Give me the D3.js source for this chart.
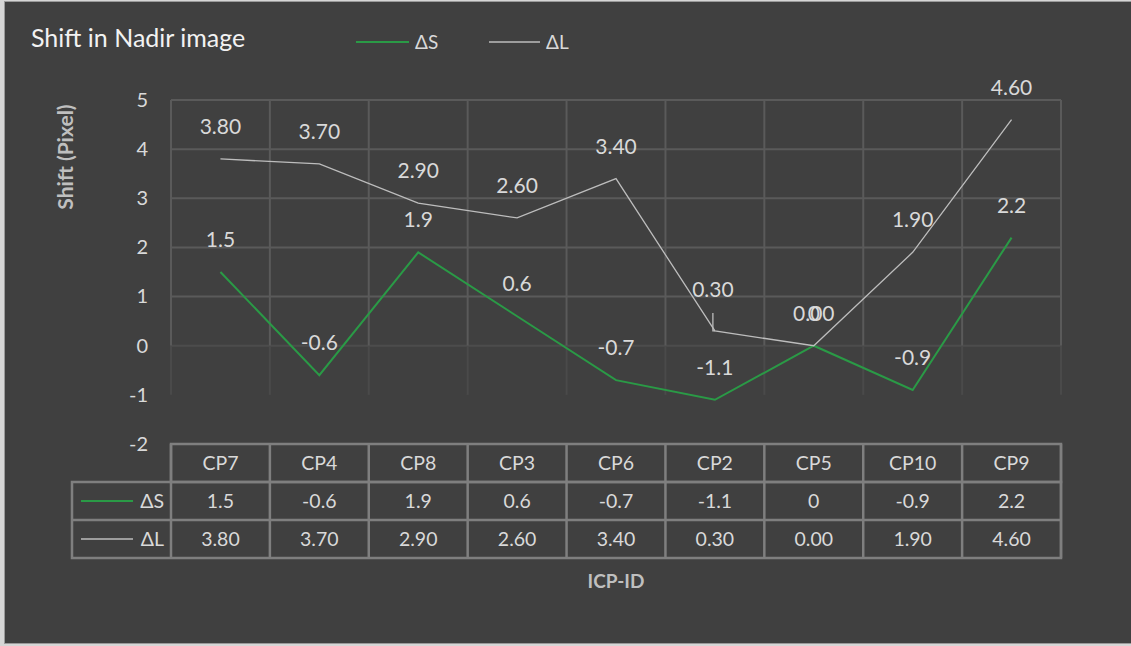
<!DOCTYPE html>
<html>
<head>
<meta charset="utf-8">
<script src="https://cdn.jsdelivr.net/npm/d3@7"></script>
<style>
  html, body { margin: 0; padding: 0; background: #d6d6d6; }
  svg { display: block; }
  text { font-family: Lato, "Open Sans", sans-serif; }
</style>
</head>
<body>
<svg id="chart" width="1131" height="646"></svg>
<script>
// ICP shift values in the nadir image
const categories = ["CP7", "CP4", "CP8", "CP3", "CP6", "CP2", "CP5", "CP10", "CP9"];
const deltaS = [1.5, -0.6, 1.9, 0.6, -0.7, -1.1, 0, -0.9, 2.2];
const deltaL = [3.80, 3.70, 2.90, 2.60, 3.40, 0.30, 0.00, 1.90, 4.60];
const yTicks = [5, 4, 3, 2, 1, 0, -1, -2];
const seriesNames = ["ΔS", "ΔL"];

const fmtS = v => String(v);
const fmtL = v => v.toFixed(2);

const series = [
  { name: seriesNames[0], values: deltaS, fmt: fmtS, color: "#2a9a46", width: 2 },
  { name: seriesNames[1], values: deltaL, fmt: fmtL, color: "#bdbdbd", width: 1.3 }
];

const svg = d3.select("#chart");
const W = 1131, H = 646;

// chart background panel
svg.append("rect")
  .attr("x", 4.5).attr("y", 1.5)
  .attr("width", W - 4).attr("height", 642)
  .attr("fill", "#404040")
  .attr("stroke", "#9a9a9a").attr("stroke-width", 1);

const plot = { left: 171, right: 1061, top: 100, bottom: 444 };

const x = d3.scaleBand().domain(categories).range([plot.left, plot.right]);
const y = d3.scaleLinear().domain([-2, 5]).range([plot.bottom, plot.top]);
const cx = c => x(c) + x.bandwidth() / 2;

// gridlines
const grid = svg.append("g");
yTicks.filter(t => t >= 1).forEach(t => {
  grid.append("line")
    .attr("x1", plot.left).attr("x2", plot.right)
    .attr("y1", y(t)).attr("y2", y(t))
    .attr("stroke", "#5a5a5a").attr("stroke-width", 2);
});
grid.append("line")
  .attr("x1", plot.left).attr("x2", plot.right)
  .attr("y1", y(0)).attr("y2", y(0))
  .attr("stroke", "#4c4c4c").attr("stroke-width", 2);
const bounds = categories.map(c => x(c)).concat([plot.right]);
bounds.forEach(bx => {
  grid.append("line")
    .attr("x1", bx).attr("x2", bx)
    .attr("y1", y(5)).attr("y2", y(0))
    .attr("stroke", "#5a5a5a").attr("stroke-width", 2);
  grid.append("line")
    .attr("x1", bx).attr("x2", bx)
    .attr("y1", y(0)).attr("y2", y(-1))
    .attr("stroke", "#4a4a4a").attr("stroke-width", 2);
});

// y axis (plain hyphen for negatives)
const yAxis = svg.append("g")
  .attr("transform", `translate(${plot.left},0)`)
  .call(d3.axisLeft(y).tickValues(yTicks).tickSize(0).tickPadding(23).tickFormat(d => String(d)));
yAxis.select(".domain").remove();
yAxis.selectAll("text")
  .attr("fill", "#d9d9d9")
  .style("font-family", "Lato, sans-serif")
  .style("font-size", "20px");

// y axis title
svg.append("text")
  .attr("transform", "translate(73,157) rotate(-90)")
  .attr("text-anchor", "middle")
  .attr("fill", "#bfbfbf")
  .style("font-weight", "bold")
  .style("font-size", "21px")
  .text("Shift (Pixel)");

// lines
const line = d3.line().x((d, i) => cx(categories[i])).y(d => y(d));
series.forEach(s => {
  svg.append("path")
    .datum(s.values)
    .attr("d", line)
    .attr("fill", "none")
    .attr("stroke", s.color)
    .attr("stroke-width", s.width)
    .attr("stroke-linejoin", "miter");
});

// data labels above each point
const labels = svg.append("g").attr("fill", "#d9d9d9").style("font-size", "21px");
series.forEach(s => {
  s.values.forEach((v, i) => {
    const px = cx(categories[i]);
    const py = y(v);
    // the CP2 ΔL label sits higher, with a leader back to its point
    const lifted = s.name === "ΔL" && categories[i] === "CP2";
    const lx = lifted ? px - 2 : px;
    const ly = lifted ? py - 34 : py - 25;
    labels.append("text")
      .attr("x", lx).attr("y", ly)
      .attr("text-anchor", "middle")
      .text(s.fmt(v));
    if (lifted) {
      svg.append("path")
        .attr("d", `M${lx},${ly + 16}L${lx},${py}L${px},${py}`)
        .attr("fill", "none")
        .attr("stroke", "#bdbdbd").attr("stroke-width", 1.3);
    }
  });
});

// data table
const rowTop = [444, 482, 520];
const rowH = 38;
const tableLeft = 72;
const tbl = svg.append("g");
const borderColor = "#7f7f7f";

// header cells
tbl.append("rect")
  .attr("x", plot.left).attr("y", rowTop[0])
  .attr("width", plot.right - plot.left).attr("height", rowH)
  .attr("fill", "none").attr("stroke", borderColor).attr("stroke-width", 2.5);
tbl.append("rect")
  .attr("x", tableLeft).attr("y", rowTop[1])
  .attr("width", plot.right - tableLeft).attr("height", rowH * 2)
  .attr("fill", "none").attr("stroke", borderColor).attr("stroke-width", 2.5);
tbl.append("line")
  .attr("x1", tableLeft).attr("x2", plot.right)
  .attr("y1", rowTop[2]).attr("y2", rowTop[2])
  .attr("stroke", borderColor).attr("stroke-width", 2.5);
bounds.forEach(bx => {
  tbl.append("line")
    .attr("x1", bx).attr("x2", bx)
    .attr("y1", rowTop[0]).attr("y2", rowTop[2] + rowH)
    .attr("stroke", borderColor).attr("stroke-width", 2.5);
});

const cellText = tbl.append("g").attr("fill", "#d9d9d9").style("font-size", "19.5px");
categories.forEach(c => {
  cellText.append("text")
    .attr("x", cx(c)).attr("y", rowTop[0] + rowH / 2)
    .attr("dy", "0.36em").attr("text-anchor", "middle")
    .text(c);
});
series.forEach((s, si) => {
  const ry = rowTop[si + 1] + rowH / 2;
  s.values.forEach((v, i) => {
    cellText.append("text")
      .attr("x", cx(categories[i])).attr("y", ry)
      .attr("dy", "0.36em").attr("text-anchor", "middle")
      .text(s.fmt(v));
  });
  // legend key inside the row header
  tbl.append("line")
    .attr("x1", 81).attr("x2", 133)
    .attr("y1", ry).attr("y2", ry)
    .attr("stroke", s.color).attr("stroke-width", s.width);
  cellText.append("text")
    .attr("x", 164).attr("y", ry)
    .attr("dy", "0.36em").attr("text-anchor", "end")
    .text(s.name);
});

// x axis title
svg.append("text")
  .attr("x", 616).attr("y", 588)
  .attr("text-anchor", "middle")
  .attr("fill", "#bfbfbf")
  .style("font-weight", "bold")
  .style("font-size", "19px")
  .text("ICP-ID");

// chart title
svg.append("text")
  .attr("x", 31).attr("y", 47)
  .attr("fill", "#f2f2f2")
  .style("font-size", "25px")
  .text("Shift in Nadir image");

// top legend
const legend = svg.append("g");
const legendPos = [{ x1: 356, x2: 409, tx: 415 }, { x1: 489, x2: 540, tx: 546 }];
series.forEach((s, i) => {
  const p = legendPos[i];
  legend.append("line")
    .attr("x1", p.x1).attr("x2", p.x2)
    .attr("y1", 42).attr("y2", 42)
    .attr("stroke", s.color).attr("stroke-width", s.width);
  legend.append("text")
    .attr("x", p.tx).attr("y", 42)
    .attr("dy", "0.36em")
    .attr("fill", "#d9d9d9")
    .style("font-size", "19px")
    .text(s.name);
});
</script>
</body>
</html>
